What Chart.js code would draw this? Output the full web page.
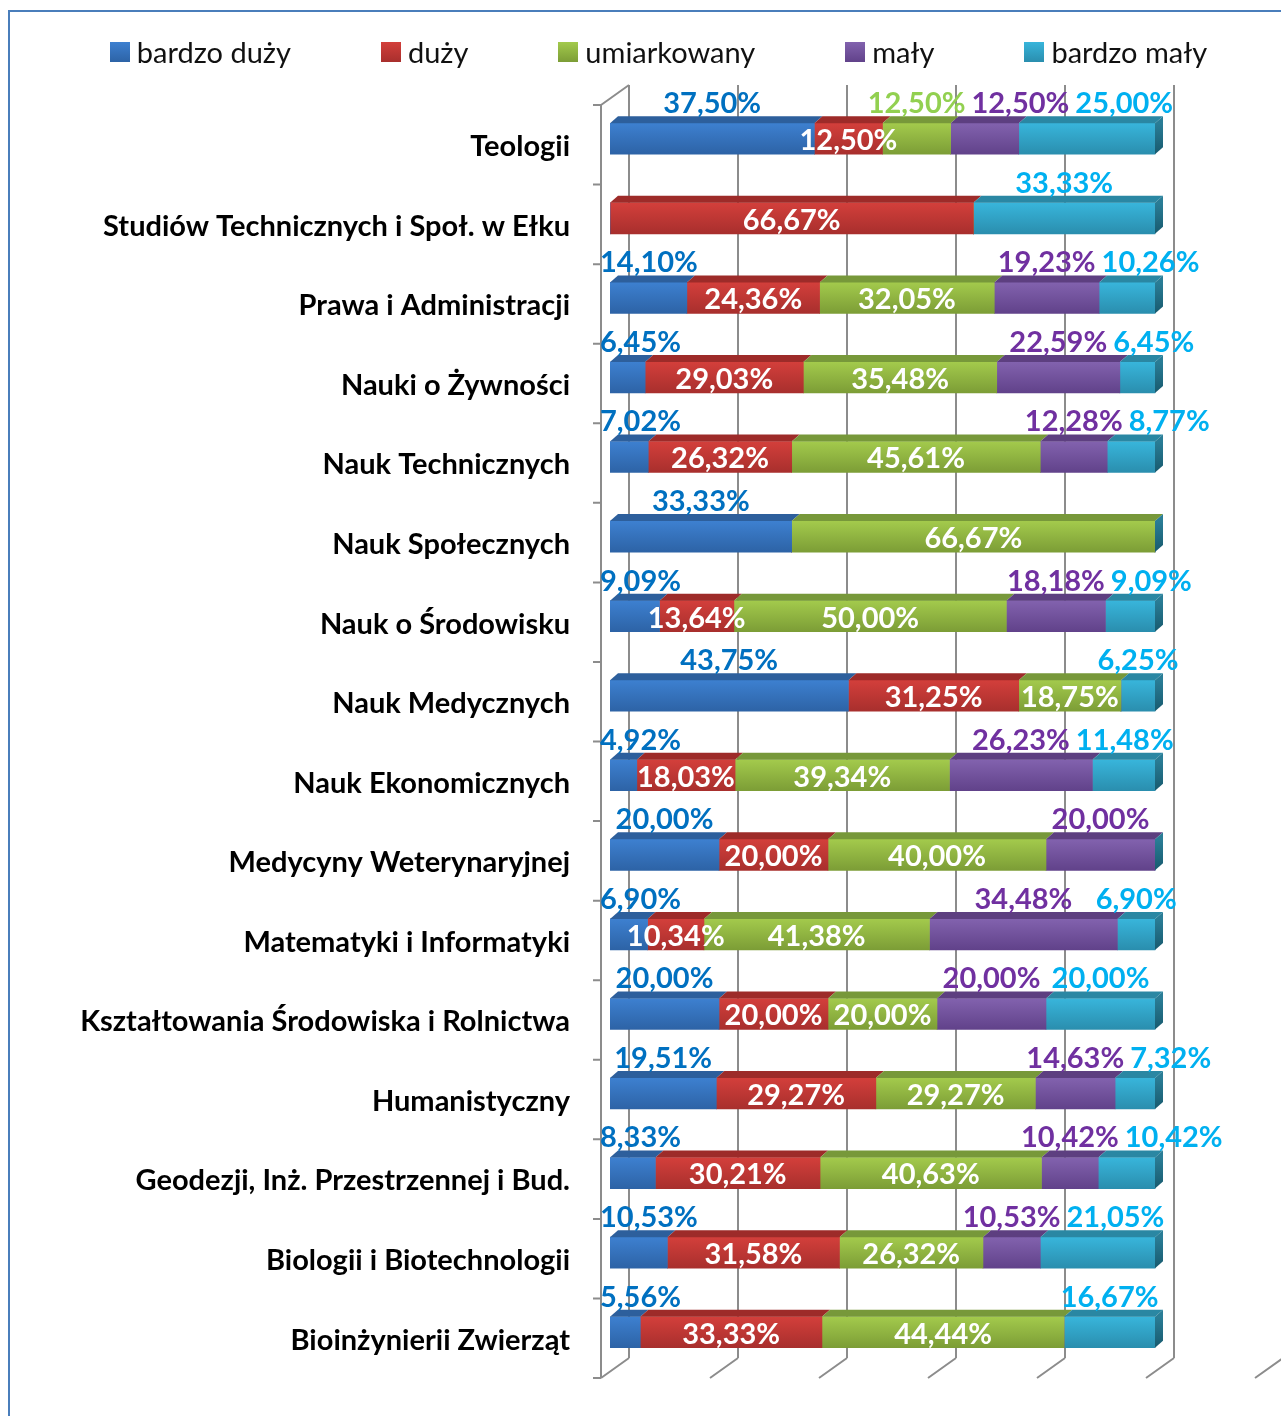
<!DOCTYPE html>
<html>
<head>
<meta charset="utf-8">
<script src="https://cdn.jsdelivr.net/npm/chart.js@4/dist/chart.umd.min.js"></script>
<style>
  html, body { margin: 0; padding: 0; background: #fff; overflow: hidden; }
  #wrap { position: relative; width: 1281px; height: 1416px; }
  #frame { position: absolute; left: 8px; top: 10px; width: 1400px; height: 1500px; border: 2px solid #4a7ebb; box-sizing: border-box; }
  #legend { position: absolute; top: 37px; left: 36px; right: 0; display: flex; justify-content: center; gap: 90px; font: 29px Lato, sans-serif; color: #111; line-height: 30px; }
  #legend .item { display: flex; align-items: center; }
  #legend .box { width: 20px; height: 20px; margin-right: 7px; }
  canvas { position: absolute; left: 0; top: 0; }
</style>
</head>
<body>
<div id="wrap">
  <div id="frame"></div>
  <canvas id="chart" width="1281" height="1416"></canvas>
  <div id="legend"></div>
</div>
<script>
// data
const categories = [
  'Teologii',
  'Studiów Technicznych i Społ. w Ełku',
  'Prawa i Administracji',
  'Nauki o Żywności',
  'Nauk Technicznych',
  'Nauk Społecznych',
  'Nauk o Środowisku',
  'Nauk Medycznych',
  'Nauk Ekonomicznych',
  'Medycyny Weterynaryjnej',
  'Matematyki i Informatyki',
  'Kształtowania Środowiska i Rolnictwa',
  'Humanistyczny',
  'Geodezji, Inż. Przestrzennej i Bud.',
  'Biologii i Biotechnologii',
  'Bioinżynierii Zwierząt',
];
const seriesNames = ['bardzo duży', 'duży', 'umiarkowany', 'mały', 'bardzo mały'];
const bardzoDuzy = [37.50, 0, 14.10, 6.45, 7.02, 33.33, 9.09, 43.75, 4.92, 20.00, 6.90, 20.00, 19.51, 8.33, 10.53, 5.56];
const duzy = [12.50, 66.67, 24.36, 29.03, 26.32, 0, 13.64, 31.25, 18.03, 20.00, 10.34, 20.00, 29.27, 30.21, 31.58, 33.33];
const umiarkowany = [12.50, 0, 32.05, 35.48, 45.61, 66.67, 50.00, 18.75, 39.34, 40.00, 41.38, 20.00, 29.27, 40.63, 26.32, 44.44];
const maly = [12.50, 0, 19.23, 22.59, 12.28, 0, 18.18, 0, 26.23, 20.00, 34.48, 20.00, 14.63, 10.42, 10.53, 0];
const bardzoMaly = [25.00, 33.33, 10.26, 6.45, 8.77, 0, 9.09, 6.25, 11.48, 0, 6.90, 20.00, 7.32, 10.42, 21.05, 16.67];
const xTicks = [0, 20, 40, 60, 80, 100, 120];

// styles
const faceTop = ['#3d80d0', '#d33f3b', '#a3ca4c', '#8262ae', '#38b5db'];
const faceBottom = ['#2d63a6', '#a82f2d', '#7c9d36', '#61428a', '#2a8eae'];
const lidColor = ['#2d5f9c', '#9d2b29', '#77983a', '#5d3f80', '#2a87a3'];
const aboveColor = ['#0070c0', '#c0504d', '#92d050', '#7030a0', '#00b0f0'];
const labelInside = [false, true, true, false, false];
// Teologii: the green label sits above the bar
const labelAboveOverride = [[0, 2]];

const DX = 8, DY = 7;      // bar depth
const BX = 19, BY = 14;    // wall depth behind the bars
const FX = 9, FY = 6;      // floor front edge in front of the bars
const BAR = 31;

const fmt = (v) => v.toFixed(2).replace('.', ',') + '%';

function isAbove(ds, idx) {
  if (labelAboveOverride.some((p) => p[0] === idx && p[1] === ds)) return true;
  return !labelInside[ds];
}

function gradientFor(ds) {
  return (context) => {
    const chart = context.chart;
    if (!chart.chartArea || context.dataIndex === undefined) return faceTop[ds];
    const y = chart.scales.y.getPixelForValue(context.dataIndex);
    const g = chart.ctx.createLinearGradient(0, y - BAR / 2, 0, y + BAR / 2);
    g.addColorStop(0, faceTop[ds]);
    g.addColorStop(1, faceBottom[ds]);
    return g;
  };
}

const walls = {
  id: 'walls',
  beforeDatasetsDraw(chart) {
    const { ctx, chartArea: a, scales } = chart;
    ctx.save();
    ctx.strokeStyle = '#8c8c8c';
    ctx.lineWidth = 2;
    ctx.beginPath();
    for (const v of xTicks) {
      const x = scales.x.getPixelForValue(v);
      ctx.moveTo(x + BX, a.top - BY);
      ctx.lineTo(x + BX, a.bottom - BY);
      ctx.moveTo(x - FX, a.bottom + FY);
      ctx.lineTo(x + BX, a.bottom - BY);
    }
    const x0 = a.left - FX;
    ctx.moveTo(x0, a.top + FY);
    ctx.lineTo(x0, a.bottom + FY);
    ctx.moveTo(x0, a.top + FY);
    ctx.lineTo(a.left + BX, a.top - BY);
    const band = (a.bottom - a.top) / categories.length;
    for (let k = 0; k <= categories.length; k++) {
      const y = a.top + k * band + FY;
      ctx.moveTo(x0 - 8, y);
      ctx.lineTo(x0, y);
    }
    ctx.stroke();
    ctx.restore();
  },
  afterDatasetsDraw(chart) {
    const { ctx, scales } = chart;
    ctx.save();
    chart.data.datasets.forEach((d, ds) => {
      chart.getDatasetMeta(ds).data.forEach((bar, i) => {
        if (!d.data[i]) return;
        const p = bar.getProps(['x', 'y', 'base', 'height'], true);
        const l = Math.min(p.x, p.base), r = Math.max(p.x, p.base);
        const top = p.y - p.height / 2;
        ctx.fillStyle = lidColor[ds];
        ctx.beginPath();
        ctx.moveTo(l, top);
        ctx.lineTo(r, top);
        ctx.lineTo(r + DX, top - DY);
        ctx.lineTo(l + DX, top - DY);
        ctx.closePath();
        ctx.fill();
      });
    });
    // right side of every bar
    const xe = scales.x.getPixelForValue(100);
    categories.forEach((c, i) => {
      const y = scales.y.getPixelForValue(i);
      const top = y - BAR / 2, bottom = y + BAR / 2;
      const g = ctx.createLinearGradient(0, top, 0, bottom);
      g.addColorStop(0, '#2a7d96');
      g.addColorStop(1, '#185a6e');
      ctx.fillStyle = g;
      ctx.beginPath();
      ctx.moveTo(xe, top);
      ctx.lineTo(xe + DX, top - DY);
      ctx.lineTo(xe + DX, bottom - DY);
      ctx.lineTo(xe, bottom);
      ctx.closePath();
      ctx.fill();
    });
    ctx.restore();
  },
};

const valueLabels = {
  id: 'valueLabels',
  afterDraw(chart) {
    const { ctx, chartArea } = chart;
    ctx.save();
    ctx.font = 'bold 29px Lato';
    ctx.textAlign = 'center';
    ctx.textBaseline = 'middle';
    categories.forEach((c, i) => {
      // keep labels above the bar inside the plot and apart from each other
      let prevRight = chartArea.left - 16;
      chart.data.datasets.forEach((d, ds) => {
        const v = d.data[i];
        if (!v) return;
        const bar = chart.getDatasetMeta(ds).data[i];
        const p = bar.getProps(['x', 'y', 'base'], true);
        const text = fmt(v);
        let cx = (p.x + p.base) / 2;
        if (isAbove(ds, i)) {
          const w = ctx.measureText(text).width;
          if (cx - w / 2 < prevRight + 6) cx = prevRight + 6 + w / 2;
          prevRight = cx + w / 2;
          ctx.fillStyle = aboveColor[ds];
          ctx.fillText(text, cx, p.y - 35);
        } else {
          ctx.fillStyle = '#ffffff';
          ctx.fillText(text, cx, p.y + 2);
        }
      });
    });
    ctx.restore();
  },
};

const seriesData = [bardzoDuzy, duzy, umiarkowany, maly, bardzoMaly];

const config = {
  type: 'bar',
  data: {
    labels: categories,
    datasets: seriesNames.map((name, ds) => ({
      label: name,
      data: seriesData[ds],
      backgroundColor: gradientFor(ds),
      borderWidth: 0,
      barThickness: BAR,
    })),
  },
  options: {
    indexAxis: 'y',
    responsive: false,
    animation: false,
    layout: { padding: { top: 99, bottom: 44, right: 17, left: 0 } },
    plugins: {
      legend: { display: false },
      tooltip: { enabled: false },
    },
    scales: {
      x: {
        stacked: true,
        min: 0,
        max: 120,
        display: false,
      },
      y: {
        stacked: true,
        grid: { display: false, drawTicks: false },
        border: { display: false },
        ticks: {
          padding: 40,
          labelOffset: 8,
          color: '#000',
          font: { family: 'Lato', size: 29, weight: 'bold' },
        },
        afterFit: (axis) => {
          axis.width = 610;
          // labels never reach past the first/last band, no extra room needed
          axis.paddingTop = 0;
          axis.paddingBottom = 0;
        },
      },
    },
  },
  plugins: [walls, valueLabels],
};

document.fonts.load('bold 29px Lato').then(() => document.fonts.load('29px Lato')).then(() => {
  new Chart(document.getElementById('chart').getContext('2d'), config);

  const legend = document.getElementById('legend');
  seriesNames.forEach((name, ds) => {
    const item = document.createElement('div');
    item.className = 'item';
    const box = document.createElement('span');
    box.className = 'box';
    box.style.background = `linear-gradient(${faceTop[ds]}, ${faceBottom[ds]})`;
    const txt = document.createElement('span');
    txt.textContent = name;
    item.appendChild(box);
    item.appendChild(txt);
    legend.appendChild(item);
  });
});
</script>
</body>
</html>
